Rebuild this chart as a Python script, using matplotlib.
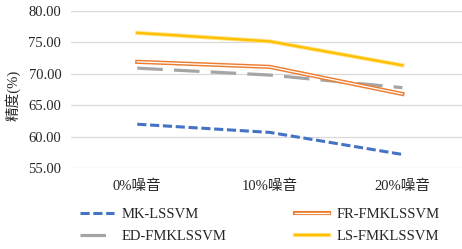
import matplotlib
matplotlib.use("Agg")
import matplotlib.pyplot as plt
import matplotlib.patheffects as pe

plt.rcParams['font.family'] = ['Liberation Serif', 'Noto Sans CJK SC']

# data
categories = ['0%噪音', '10%噪音', '20%噪音']
mk_lssvm = [61.95, 60.65, 57.15]
ed_fmklssvm = [70.85, 69.75, 67.75]
fr_fmklssvm = [71.85, 71.05, 66.75]
ls_fmklssvm = [76.45, 75.10, 71.30]
y_ticks = [55, 60, 65, 70, 75, 80]

text_color = '#262626'
fs = 10.5

fig = plt.figure(figsize=(4.62, 2.49), dpi=100)
ax = fig.add_axes([71 / 462, 1 - 168 / 249, 391 / 462, (168 - 10.5) / 249])

x = list(range(len(categories)))

ax.plot(x, mk_lssvm, color='#4472C4', lw=2.2, linestyle=(0, (3, 1.2)),
        label='MK-LSSVM', zorder=3)
ax.plot(x, ed_fmklssvm, color='#A5A5A5', lw=2.3, linestyle=(0, (8, 3.5)),
        label='ED-FMKLSSVM', zorder=3)
ax.plot(x, fr_fmklssvm, color='white', lw=0.9, label='FR-FMKLSSVM', zorder=4,
        path_effects=[pe.Stroke(linewidth=3.0, foreground='#ED7D31'), pe.Normal()])
ax.plot(x, ls_fmklssvm, color='#FFC000', lw=1.7, label='LS-FMKLSSVM', zorder=4,
        path_effects=[pe.Stroke(linewidth=3.0, foreground='#FFE38A'), pe.Normal()])

ax.set_xlim(-0.5, 2.45)
ax.set_ylim(55, 80)
ax.set_yticks(y_ticks)
ax.set_yticklabels([f'{v:.2f}' for v in y_ticks])
ax.set_xticks(x)
ax.set_xticklabels(categories)
ax.tick_params(axis='both', length=0, labelsize=fs, colors=text_color)
ax.tick_params(axis='y', pad=7)
ax.tick_params(axis='x', pad=8)
ax.grid(axis='y', color='#D9D9D9', lw=0.9)
ax.set_axisbelow(True)
for s in ax.spines.values():
    s.set_visible(False)

fig.text(13 / 462, 1 - 95 / 249, '精度(%)', rotation=90, ha='center', va='center',
         fontsize=fs, color=text_color)

handles, labels = ax.get_legend_handles_labels()
leg = fig.legend(handles, labels,
                 loc='upper left', bbox_to_anchor=(80 / 462, 1 - 208 / 249),
                 ncol=2, frameon=False, fontsize=fs, handlelength=2.3,
                 handletextpad=0.55, columnspacing=4.7, labelspacing=0.6,
                 borderpad=0, borderaxespad=0)
for t in leg.get_texts():
    t.set_color(text_color)

fig.savefig('out.png', dpi=100)
